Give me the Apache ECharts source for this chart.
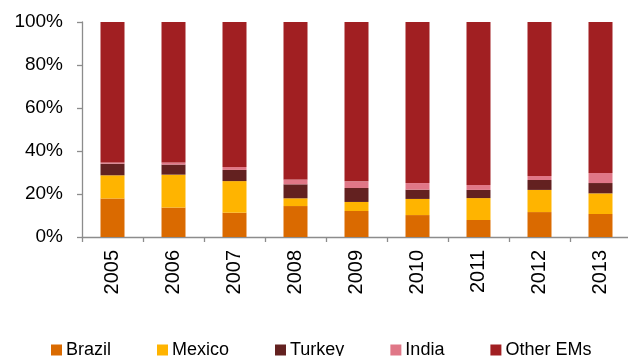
<!DOCTYPE html>
<html>
<head>
<meta charset="utf-8">
<script src="https://cdn.jsdelivr.net/npm/echarts@6/dist/echarts.min.js"></script>
<style>
html, body { margin: 0; padding: 0; background: #fff; }
#chart { width: 628px; height: 356px; }
</style>
</head>
<body>
<div id="chart"></div>
<script>
// 年份
var years = ['2005', '2006', '2007', '2008', '2009', '2010', '2011', '2012', '2013'];
// 各国占比(%)
var brazil  = [17.9, 13.7, 11.3, 14.4, 12.1, 10.2, 7.9, 11.6, 10.7];
var mexico  = [10.8, 15.3, 14.7, 3.6, 4.2, 7.5, 10.2, 10.3, 9.6];
var turkey  = [5.4, 4.7, 5.2, 6.5, 6.5, 4.3, 3.8, 4.6, 4.8];
var india   = [0.6, 1.0, 1.4, 2.3, 3.1, 3.1, 2.3, 1.9, 4.7];
var otherEM = [65.3, 65.3, 67.4, 73.2, 74.1, 74.9, 75.8, 71.6, 70.2];
var yTicks  = [0, 20, 40, 60, 80, 100];

var font = "'Liberation Sans', Arial, sans-serif";
var axisColor = '#8c8c8c';

function barSeries(name, data, color) {
    return {
        name: name,
        type: 'bar',
        stack: 'total',
        barWidth: 24,
        data: data,
        itemStyle: { color: color },
        emphasis: { disabled: true }
    };
}

var myChart = echarts.init(document.getElementById('chart'));
var option = {
    animation: false,
    textStyle: { fontFamily: font },
    grid: {
        left: 82,
        top: 22,
        width: 549,
        bottom: 119,
        outerBoundsMode: 'none',
        containLabel: false
    },
    legend: {
        left: 46,
        top: 336,
        itemWidth: 11,
        itemHeight: 11,
        itemGap: 46,
        icon: 'rect',
        textStyle: { fontFamily: font, fontSize: 18, color: '#000', padding: [0, 0, 0, -1] },
        data: ['Brazil', 'Mexico', 'Turkey', 'India', 'Other EMs']
    },
    xAxis: [{
        type: 'category',
        data: years,
        axisLine: { lineStyle: { color: axisColor, width: 1.3 } },
        axisTick: { show: true, length: 5, lineStyle: { color: axisColor, width: 1.3 } },
        axisLabel: { rotate: 90, margin: 13, fontSize: 20, color: '#000', fontFamily: font }
    }],
    yAxis: [{
        type: 'value',
        min: yTicks[0],
        max: yTicks[yTicks.length - 1],
        interval: 20,
        splitLine: { show: false },
        axisLine: { show: true, lineStyle: { color: axisColor, width: 1.3 } },
        axisTick: { show: true, length: 5, lineStyle: { color: axisColor, width: 1.3 } },
        axisLabel: {
            margin: 19,
            fontSize: 19,
            color: '#000',
            fontFamily: font,
            formatter: function (v) { return v + '%'; }
        }
    }],
    series: [
        barSeries('Brazil', brazil, '#da6a00'),
        barSeries('Mexico', mexico, '#ffb400'),
        barSeries('Turkey', turkey, '#632120'),
        barSeries('India', india, '#e07787'),
        barSeries('Other EMs', otherEM, '#a11f22')
    ]
};
myChart.setOption(option);
</script>
</body>
</html>
